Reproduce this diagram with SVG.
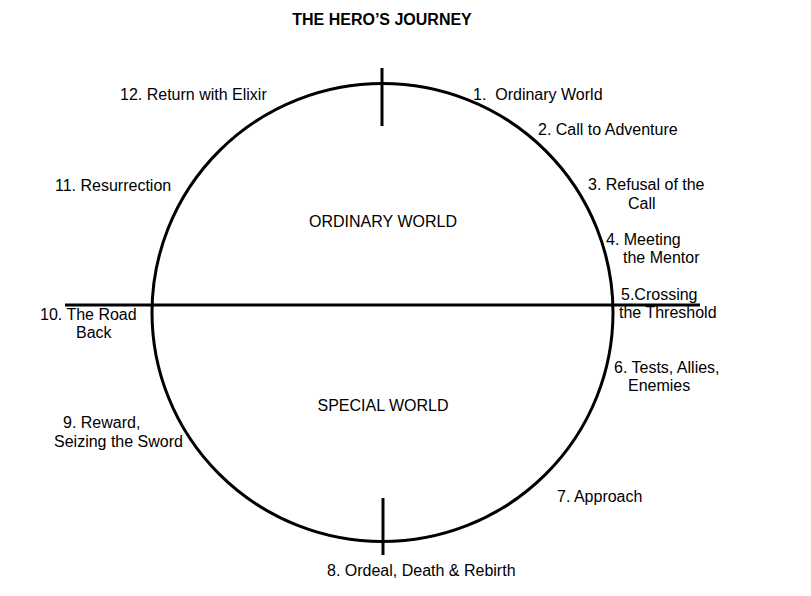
<svg xmlns="http://www.w3.org/2000/svg" width="811" height="596" viewBox="0 0 811 596">
<style>
text{font-family:"Liberation Sans",Arial,sans-serif;font-size:16px;fill:#000}
.t{font-weight:bold;font-size:16px}
.ln{stroke:#000;stroke-width:3;fill:none}
</style>
<rect width="811" height="596" fill="#fff"/>
<text class="t" x="382" y="25" text-anchor="middle">THE HERO’S JOURNEY</text>
<g id="connectors">
<ellipse class="ln" cx="382.5" cy="312.5" rx="230.5" ry="229"/>
<line class="ln" x1="65" y1="305" x2="700" y2="305"/>
<line class="ln" x1="382" y1="68" x2="382" y2="126"/>
<line class="ln" x1="383" y1="498" x2="383" y2="555"/>
</g>
<g id="ordinary-world"><text x="383" y="227" text-anchor="middle">ORDINARY WORLD</text></g>
<g id="special-world"><text x="383" y="411" text-anchor="middle">SPECIAL WORLD</text></g>
<g id="s1"><text x="473" y="100" xml:space="preserve">1.  Ordinary World</text></g>
<g id="s2"><text x="538" y="135">2. Call to Adventure</text></g>
<g id="s3"><text x="588" y="190">3. Refusal of the</text><text x="628" y="209">Call</text></g>
<g id="s4"><text x="606" y="245">4. Meeting</text><text x="623" y="263">the Mentor</text></g>
<g id="s5"><text x="621" y="300">5.Crossing</text><text x="619" y="318">the Threshold</text></g>
<g id="s6"><text x="614" y="373">6. Tests, Allies,</text><text x="628" y="391">Enemies</text></g>
<g id="s7"><text x="557" y="502">7. Approach</text></g>
<g id="s8"><text x="327" y="576">8. Ordeal, Death &amp; Rebirth</text></g>
<g id="s9"><text x="63" y="428">9. Reward,</text><text x="54" y="447">Seizing the Sword</text></g>
<g id="s10"><text x="40" y="320">10. The Road</text><text x="76" y="338">Back</text></g>
<g id="s11"><text x="55" y="191">11. Resurrection</text></g>
<g id="s12"><text x="120" y="100">12. Return with Elixir</text></g>
</svg>
